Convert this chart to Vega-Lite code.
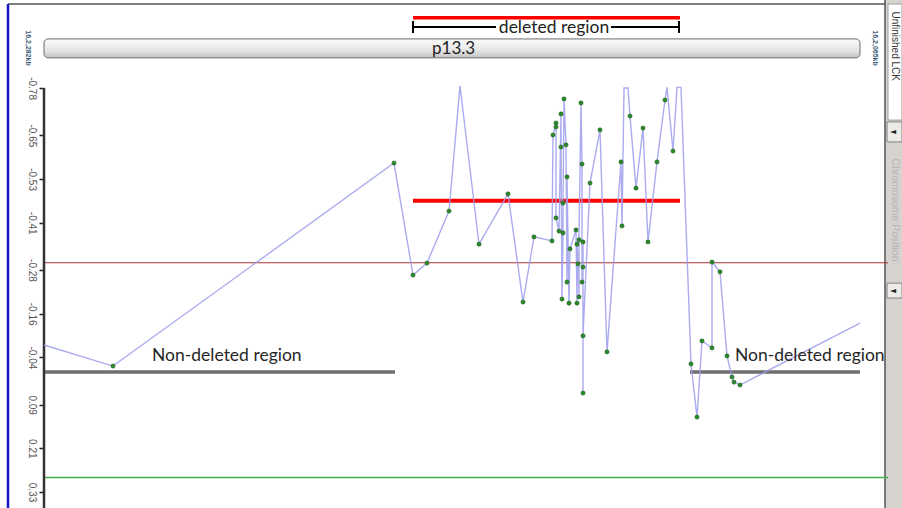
{
  "$schema": "https://vega.github.io/schema/vega-lite/v6.json",
  "width": 858,
  "height": 508,
  "padding": {"left": 44, "top": 0, "right": 0, "bottom": 0},
  "autosize": {"type": "none"},
  "background": "white",
  "config": {"view": {"stroke": null}},
  "datasets": {
    "profile": [
      {"i": 0, "pos": 0, "v": -0.074},
      {"i": 1, "pos": 69, "v": -0.016},
      {"i": 2, "pos": 350, "v": -0.574},
      {"i": 3, "pos": 369, "v": -0.266},
      {"i": 4, "pos": 383, "v": -0.299},
      {"i": 5, "pos": 405, "v": -0.442},
      {"i": 6, "pos": 416, "v": -0.786},
      {"i": 7, "pos": 435, "v": -0.351},
      {"i": 8, "pos": 464, "v": -0.489},
      {"i": 9, "pos": 479, "v": -0.192},
      {"i": 10, "pos": 490, "v": -0.371},
      {"i": 11, "pos": 508, "v": -0.360},
      {"i": 12, "pos": 509, "v": -0.651},
      {"i": 13, "pos": 512, "v": -0.684},
      {"i": 14, "pos": 512, "v": -0.673},
      {"i": 15, "pos": 512, "v": -0.423},
      {"i": 16, "pos": 515, "v": -0.387},
      {"i": 17, "pos": 517, "v": -0.709},
      {"i": 18, "pos": 517, "v": -0.618},
      {"i": 19, "pos": 518, "v": -0.200},
      {"i": 20, "pos": 519, "v": -0.382},
      {"i": 21, "pos": 519, "v": -0.464},
      {"i": 22, "pos": 520, "v": -0.750},
      {"i": 23, "pos": 522, "v": -0.624},
      {"i": 24, "pos": 523, "v": -0.247},
      {"i": 25, "pos": 523, "v": -0.536},
      {"i": 26, "pos": 525, "v": -0.189},
      {"i": 27, "pos": 526, "v": -0.338},
      {"i": 28, "pos": 532, "v": -0.390},
      {"i": 29, "pos": 533, "v": -0.189},
      {"i": 30, "pos": 533, "v": -0.351},
      {"i": 31, "pos": 534, "v": -0.297},
      {"i": 32, "pos": 535, "v": -0.206},
      {"i": 33, "pos": 535, "v": -0.363},
      {"i": 34, "pos": 537, "v": -0.739},
      {"i": 35, "pos": 538, "v": -0.571},
      {"i": 36, "pos": 538, "v": -0.247},
      {"i": 37, "pos": 539, "v": -0.357},
      {"i": 38, "pos": 539, "v": -0.288},
      {"i": 39, "pos": 539, "v": 0.058},
      {"i": 40, "pos": 539, "v": -0.099},
      {"i": 41, "pos": 546, "v": -0.519},
      {"i": 42, "pos": 556, "v": -0.665},
      {"i": 43, "pos": 563, "v": -0.055},
      {"i": 44, "pos": 577, "v": -0.577},
      {"i": 45, "pos": 578, "v": -0.401},
      {"i": 46, "pos": 580, "v": -0.780},
      {"i": 47, "pos": 584, "v": -0.780},
      {"i": 48, "pos": 586, "v": -0.703},
      {"i": 49, "pos": 592, "v": -0.505},
      {"i": 50, "pos": 599, "v": -0.670},
      {"i": 51, "pos": 604, "v": -0.357},
      {"i": 52, "pos": 613, "v": -0.577},
      {"i": 53, "pos": 621, "v": -0.747},
      {"i": 54, "pos": 623, "v": -0.782},
      {"i": 55, "pos": 629, "v": -0.607},
      {"i": 56, "pos": 633, "v": -0.782},
      {"i": 57, "pos": 637, "v": -0.782},
      {"i": 58, "pos": 647, "v": -0.022},
      {"i": 59, "pos": 653, "v": 0.124},
      {"i": 60, "pos": 658, "v": -0.085},
      {"i": 61, "pos": 668, "v": -0.066},
      {"i": 62, "pos": 668, "v": -0.302},
      {"i": 63, "pos": 676, "v": -0.275},
      {"i": 64, "pos": 683, "v": -0.044},
      {"i": 65, "pos": 688, "v": 0.014},
      {"i": 66, "pos": 690, "v": 0.028},
      {"i": 67, "pos": 696, "v": 0.036},
      {"i": 68, "pos": 816, "v": -0.134}
    ]
  },
  "encoding": {
    "x": {"field": "pos", "type": "quantitative", "scale": {"domain": [0, 858], "nice": false, "zero": false}, "axis": null},
    "y": {
      "field": "v", "type": "quantitative",
      "scale": {"domain": [-1.022, 0.374], "reverse": true, "nice": false, "zero": false},
      "axis": {
        "title": null,
        "values": [-0.78, -0.65, -0.53, -0.41, -0.28, -0.16, -0.04, 0.09, 0.21, 0.33],
        "labelExpr": "(datum.value < 0 ? '-' : '') + format(abs(datum.value), '.2f')",
        "labelAngle": 90, "labelAlign": "center", "labelBaseline": "top", "labelPadding": 3,
        "labelFont": "Liberation Sans", "labelFontSize": 10, "labelColor": "#555555",
        "domain": false, "grid": false, "ticks": true, "tickSize": 5, "tickColor": "#222222", "tickWidth": 1.5,
        "labelOverlap": false, "labelFlush": false, "labelBound": false
      }
    }
  },
  "layer": [
    {
      "data": {"values": [{"pos": 841, "pos2": 858, "v": -1.022, "v2": 0.374}]},
      "mark": {"type": "rect", "fill": "#d6d3ce"},
      "encoding": {"x2": {"field": "pos2"}, "y2": {"field": "v2"}}
    },
    {
      "data": {"values": [{"pos": 844, "pos2": 858, "v": -1.011, "v2": -0.692}]},
      "mark": {"type": "rect", "fill": "#ffffff", "stroke": "#a0a0a0", "strokeWidth": 1},
      "encoding": {"x2": {"field": "pos2"}, "y2": {"field": "v2"}}
    },
    {
      "data": {"values": [{"pos": 843, "pos2": 858, "v": -0.687, "v2": -0.632}, {"pos": 843, "pos2": 858, "v": -0.244, "v2": -0.203}]},
      "mark": {"type": "rect", "fill": "#ecebe8", "stroke": "#808080", "strokeWidth": 1},
      "encoding": {"x2": {"field": "pos2"}, "y2": {"field": "v2"}}
    },
    {
      "data": {"values": [{"pos": 849, "v": -0.659, "label": "◄"}, {"pos": 849, "v": -0.223, "label": "◄"}]},
      "mark": {"type": "text", "font": "DejaVu Sans", "fontSize": 8, "color": "#222222", "align": "center", "baseline": "middle"},
      "encoding": {"text": {"field": "label"}}
    },
    {
      "data": {"values": [{"pos": 850.5, "v": -0.895, "label": "Unfinished LCK"}]},
      "mark": {"type": "text", "font": "Liberation Sans", "fontSize": 10, "color": "#333333", "angle": 90, "align": "center", "baseline": "middle"},
      "encoding": {"text": {"field": "label"}}
    },
    {
      "data": {"values": [{"pos": 850.5, "v": -0.445, "label": "Chromosome Position"}]},
      "mark": {"type": "text", "font": "Liberation Sans", "fontSize": 10.5, "color": "#b5b5b5", "angle": 90, "align": "center", "baseline": "middle"},
      "encoding": {"text": {"field": "label"}}
    },
    {
      "data": {"values": [{"pos": 841, "v": -1.022, "v2": 0.374}]},
      "mark": {"type": "rule", "color": "#555555", "strokeWidth": 1.5},
      "encoding": {"y2": {"field": "v2"}}
    },
    {
      "data": {"values": [{"pos": -36, "pos2": 841, "v": -1.011}]},
      "mark": {"type": "rule", "color": "#555555", "strokeWidth": 1.5},
      "encoding": {"x2": {"field": "pos2"}}
    },
    {
      "data": {"values": [{"pos": -36, "v": -1.011, "v2": 0.374}]},
      "mark": {"type": "rule", "color": "#1414c8", "strokeWidth": 2.5},
      "encoding": {"y2": {"field": "v2"}}
    },
    {
      "data": {"values": [{"pos": -16, "v": -0.890, "label": "16,2,282kb"}, {"pos": 831, "v": -0.890, "label": "16,2,065kb"}]},
      "mark": {"type": "text", "font": "Liberation Sans", "fontSize": 7, "fontWeight": "bold", "color": "#3a5a7a", "angle": 90, "align": "center", "baseline": "middle"},
      "encoding": {"text": {"field": "label"}}
    },
    {
      "data": {"values": [{"pos": 0, "pos2": 816, "v": -0.915, "v2": -0.863}]},
      "mark": {
        "type": "rect", "cornerRadius": 4, "stroke": "#6a6a6a", "strokeWidth": 1,
        "fill": {"gradient": "linear", "x1": 0, "y1": 0, "x2": 0, "y2": 1,
          "stops": [{"offset": 0, "color": "#fbfbfb"}, {"offset": 0.6, "color": "#e6e6e6"}, {"offset": 1, "color": "#c2c2c2"}]}
      },
      "encoding": {"x2": {"field": "pos2"}, "y2": {"field": "v2"}}
    },
    {
      "data": {"values": [{"pos": 369, "pos2": 636, "v": -0.973}]},
      "mark": {"type": "rule", "color": "#ff0000", "strokeWidth": 3.5},
      "encoding": {"x2": {"field": "pos2"}}
    },
    {
      "data": {"values": [{"pos": 369, "pos2": 452, "v": -0.948}, {"pos": 567, "pos2": 635, "v": -0.948}]},
      "mark": {"type": "rule", "color": "#000000", "strokeWidth": 2},
      "encoding": {"x2": {"field": "pos2"}}
    },
    {
      "data": {"values": [{"pos": 369, "v": -0.964, "v2": -0.931}, {"pos": 635, "v": -0.964, "v2": -0.931}]},
      "mark": {"type": "rule", "color": "#000000", "strokeWidth": 2},
      "encoding": {"y2": {"field": "v2"}}
    },
    {
      "data": {"values": [{"pos": 510, "v": -0.946, "label": "deleted region"}]},
      "mark": {"type": "text", "font": "Lato", "fontSize": 17.5, "color": "#222222", "align": "center", "baseline": "middle"},
      "encoding": {"text": {"field": "label"}}
    },
    {
      "data": {"values": [{"pos": 388, "v": -0.887, "label": "p13.3"}]},
      "mark": {"type": "text", "font": "Lato", "fontSize": 17, "color": "#222222", "align": "left", "baseline": "middle"},
      "encoding": {"text": {"field": "label"}}
    },
    {
      "data": {"values": [{"pos": 0, "pos2": 844, "v": -0.30}]},
      "mark": {"type": "rule", "color": "#a83232", "strokeWidth": 1.2},
      "encoding": {"x2": {"field": "pos2"}}
    },
    {
      "data": {"values": [{"pos": 0, "pos2": 844, "v": 0.29}]},
      "mark": {"type": "rule", "color": "#44b044", "strokeWidth": 1.4},
      "encoding": {"x2": {"field": "pos2"}}
    },
    {
      "data": {"values": [{"pos": 0, "pos2": 351, "v": 0.0}, {"pos": 646, "pos2": 816, "v": 0.0}]},
      "mark": {"type": "rule", "color": "#6e6e6e", "strokeWidth": 3.5},
      "encoding": {"x2": {"field": "pos2"}}
    },
    {
      "data": {"values": [{"pos": 369, "pos2": 636, "v": -0.47}]},
      "mark": {"type": "rule", "color": "#ff0000", "strokeWidth": 4},
      "encoding": {"x2": {"field": "pos2"}}
    },
    {
      "data": {"values": [{"pos": 0, "v": -0.78, "v2": 0.374}]},
      "mark": {"type": "rule", "color": "#333333", "strokeWidth": 2.5},
      "encoding": {"y2": {"field": "v2"}}
    },
    {
      "data": {"name": "profile"},
      "mark": {"type": "line", "color": "#9c9cec", "strokeWidth": 1.4, "opacity": 0.85},
      "encoding": {"order": {"field": "i", "type": "quantitative"}}
    },
    {
      "data": {"name": "profile"},
      "transform": [{"filter": "datum.v > -0.775 && datum.i > 0 && datum.i < 68"}],
      "mark": {"type": "point", "filled": true, "color": "#2a8a2a", "stroke": "#145214", "strokeWidth": 0.5, "size": 18, "opacity": 1},
      "encoding": {}
    },
    {
      "data": {"values": [{"pos": 108, "v": -0.044, "label": "Non-deleted region"}, {"pos": 691, "v": -0.044, "label": "Non-deleted region"}]},
      "mark": {"type": "text", "font": "Lato", "fontSize": 17.5, "color": "#262626", "align": "left", "baseline": "middle"},
      "encoding": {"text": {"field": "label"}}
    }
  ]
}
